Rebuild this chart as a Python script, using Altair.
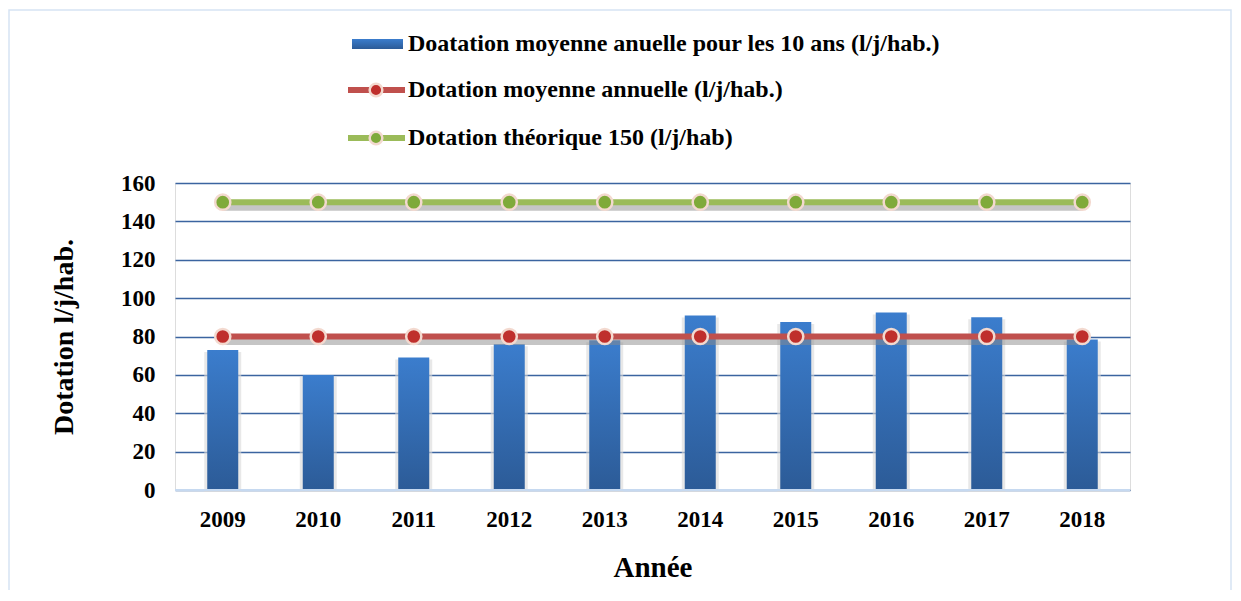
import altair as alt
import pandas as pd

years = ["2009", "2010", "2011", "2012", "2013", "2014", "2015", "2016", "2017", "2018"]
dotation_10ans = [73, 60, 69, 76, 78, 91, 87.5, 92.5, 90, 78.5]
dotation_annuelle = [80, 80, 80, 80, 80, 80, 80, 80, 80, 80]
dotation_theorique = [150, 150, 150, 150, 150, 150, 150, 150, 150, 150]
y_ticks = [0, 20, 40, 60, 80, 100, 120, 140, 160]

legend_labels = [
    "Doatation moyenne anuelle pour les 10 ans (l/j/hab.)",
    "Dotation moyenne annuelle (l/j/hab.)",
    "Dotation théorique 150 (l/j/hab)",
]

df = pd.DataFrame({
    "year": years,
    "bar": dotation_10ans,
    "annual": dotation_annuelle,
    "theo": dotation_theorique,
})

FONT = "Liberation Serif"
W, H = 955, 307

xenc = alt.X("year:O", scale=alt.Scale(paddingInner=0, paddingOuter=0),
             axis=alt.Axis(title="Année", labelAngle=0, labelFont=FONT, labelFontWeight="bold",
                           labelFontSize=23, labelColor="black", labelPadding=18,
                           titleFont=FONT, titleFontWeight="bold", titleFontSize=29,
                           titleColor="black", titlePadding=22, ticks=False, domain=False))
yscale = alt.Scale(domain=[0, 160])
yaxis = alt.Axis(title="Dotation l/j/hab.", values=y_ticks, labelOverlap=False, labelFont=FONT,
                 labelFontWeight="bold", labelFontSize=23, labelColor="black",
                 labelPadding=20, ticks=False, domain=False,
                 gridColor="#3b64a0", gridWidth=1.6,
                 titleFont=FONT, titleFontWeight="bold", titleFontSize=28,
                 titleColor="black", titlePadding=42)

def yenc(field):
    return alt.Y(f"{field}:Q", scale=yscale, axis=yaxis)

base = alt.Chart(df)

grad = alt.LinearGradient(
    gradient="linear", x1=0, y1=0, x2=0, y2=1,
    stops=[alt.GradientStop(offset=0, color="#3b7dcd"),
           alt.GradientStop(offset=1, color="#2c5b97")])

bar_shadow = base.mark_bar(size=37, color="#d9d9d9", opacity=0.6, yOffset=2).encode(
    x=xenc, y=yenc("bar"))

bars = base.mark_bar(size=31, color=grad).encode(x=xenc, y=yenc("bar"))

zero_rule = base.mark_rule(color="#c6d9f0", strokeWidth=2).encode(
    y=alt.datum(0, scale=yscale, axis=yaxis), x=alt.value(0), x2=alt.value(W))

def series(field, line_color, dot_color):
    yv = yenc(field)
    shadow = base.mark_line(color="#8c8c8c", opacity=0.5, strokeWidth=7, yOffset=5).encode(x=xenc, y=yv)
    line = base.mark_line(color=line_color, strokeWidth=6).encode(x=xenc, y=yv)
    pts = base.mark_point(filled=True, size=230, color=dot_color, stroke="#f3d9cf",
                          strokeWidth=2.5, opacity=1).encode(x=xenc, y=yv)
    return shadow + line + pts

red = series("annual", "#c0504d", "#bf2f2c")
green = series("theo", "#9bbb59", "#7faa3a")

# manual legend (positions relative to plot origin)
leg_y = [-139, -93, -45]
leg_text = []
for i, lab in enumerate(legend_labels):
    leg_text.append(alt.Chart(pd.DataFrame({"t": [lab]})).mark_text(
        font=FONT, fontWeight="bold", fontSize=24, align="left", baseline="middle",
        color="black").encode(text="t:N", x=alt.value(233), y=alt.value(leg_y[i])))

leg_bar = alt.Chart(pd.DataFrame({"a": [0]})).mark_rect(color=grad).encode(
    x=alt.value(177), x2=alt.value(228), y=alt.value(leg_y[0] - 5), y2=alt.value(leg_y[0] + 5))

def leg_line(row, lc, dc):
    yv = leg_y[row]
    d = pd.DataFrame({"a": [0]})
    ln = alt.Chart(d).mark_rule(color=lc, strokeWidth=6).encode(
        x=alt.value(173), x2=alt.value(230), y=alt.value(yv))
    pt = alt.Chart(d).mark_point(filled=True, size=160, color=dc, stroke="#f3d9cf",
                                 strokeWidth=2.5, opacity=1).encode(
        x=alt.value(201), y=alt.value(yv))
    return ln + pt

border = alt.Chart(pd.DataFrame({"a": [0]})).mark_rect(
    fill=None, stroke="#d6e3f3", strokeWidth=1.5).encode(
    x=alt.value(-166), x2=alt.value(1056), y=alt.value(-173), y2=alt.value(420))

chart = alt.layer(
    border, bar_shadow, bars, zero_rule, red, green,
    leg_bar, leg_line(1, "#c0504d", "#bf2f2c"), leg_line(2, "#9bbb59", "#7faa3a"),
    *leg_text
).properties(
    width=W, height=H,
    autosize=alt.AutoSizeParams(type="none"),
    padding={"left": 167, "top": 175, "right": 103, "bottom": 100},
).configure_view(stroke=None).configure(background="white")

chart.save("out.html", embed_options={"renderer": "svg", "actions": False})
